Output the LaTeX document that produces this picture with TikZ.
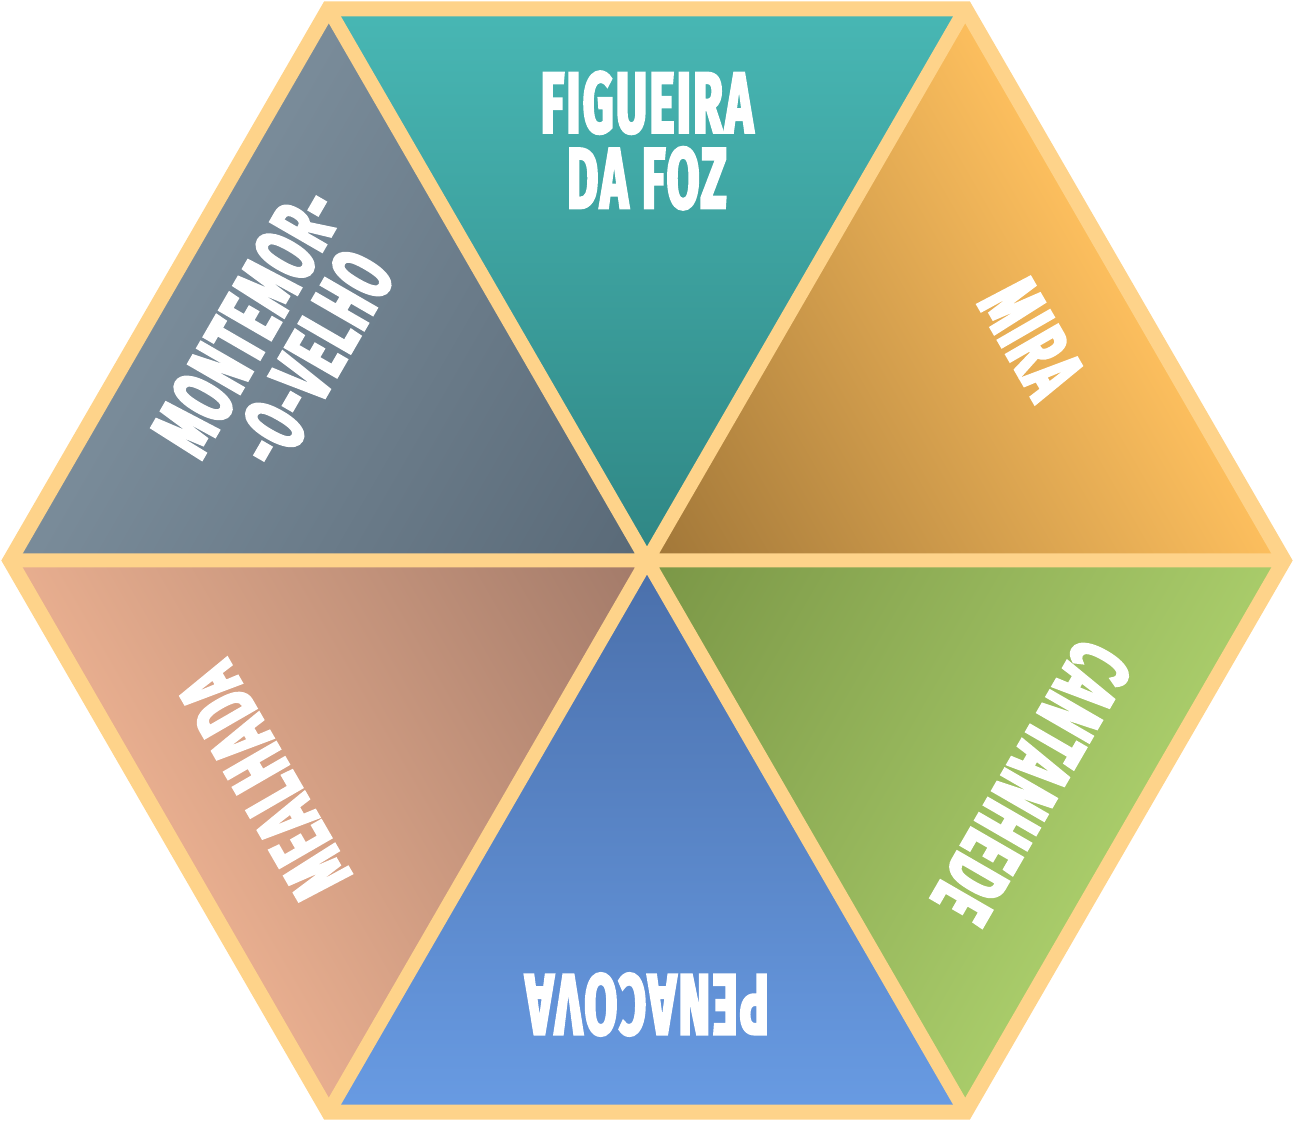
\documentclass[tikz,border=0pt]{standalone}
\usepackage{fontspec}
\newfontfamily\labfont{Fira Sans}[FakeStretch=0.55, FakeBold=3, LetterSpace=3]
\definecolor{rim}{HTML}{FED38A}
\definecolor{tealO}{HTML}{48B7B4}\definecolor{tealI}{HTML}{2F8684}
\definecolor{orngO}{HTML}{FDBF5E}\definecolor{orngI}{HTML}{A07638}
\definecolor{grnO}{HTML}{A9CC6A}\definecolor{grnI}{HTML}{7A9646}
\definecolor{bluO}{HTML}{689BE3}\definecolor{bluI}{HTML}{4A6FAA}
\definecolor{salO}{HTML}{E8AE8F}\definecolor{salI}{HTML}{A27A69}
\definecolor{gryO}{HTML}{7A8C9A}\definecolor{gryI}{HTML}{596977}
\tikzset{
  lab/.style={text=white, align=center, inner sep=0pt,
    font=\labfont\bfseries\fontsize{49}{43}\selectfont},
}
% one sector pointing up, turned into place on the canvas so its shading turns too:
% #1 angle, #2 outer colour, #3 inner colour
\newcommand\hexsector[3]{%
  \begin{scope}[transform canvas={rotate=#1}]
    \shade[top color=#2, middle color=#2, bottom color=#3]
      (0,0) -- (60:637) -- (120:637) -- cycle;
  \end{scope}}
\begin{document}
\begin{tikzpicture}[x=0.02cm,y=0.02cm]
\useasboundingbox (-647,-560.5) rectangle (646,560.5);
\coordinate (O) at (0,0);
\foreach \a in {0,60,...,300} {\coordinate (v\a) at (\a:637);}
% six coloured sectors, darker towards the centre
\hexsector{0}{tealO}{tealI}
\hexsector{-60}{orngO}{orngI}
\hexsector{-120}{grnO}{grnI}
\hexsector{180}{bluO}{bluI}
\hexsector{120}{salO}{salI}
\hexsector{60}{gryO}{gryI}
% frame and spokes
\draw[rim, line width=0.28cm] (v0) -- (v180) (v60) -- (v240) (v120) -- (v300);
\draw[rim, line width=0.3cm, line join=miter] (v0) -- (v60) -- (v120) -- (v180) -- (v240) -- (v300) -- cycle;
% labels
\node[lab, rotate=0]    (figueira)   at (90:420)  {FIGUEIRA\\DA FOZ};
\node[lab, rotate=-60]  (mira)       at (30:444)  {MIRA};
\node[lab, rotate=-120] (cantanhede) at (-30:444) {CANTANHEDE};
\node[lab, rotate=180]  (penacova)   at (-90:444) {PENACOVA};
\node[lab, rotate=120]  (mealhada)   at (210:442) {MEALHADA};
\node[lab, rotate=60]   (montemor)   at (149:428) {MONTEMOR-\\-O-VELHO};
\end{tikzpicture}
\end{document}
